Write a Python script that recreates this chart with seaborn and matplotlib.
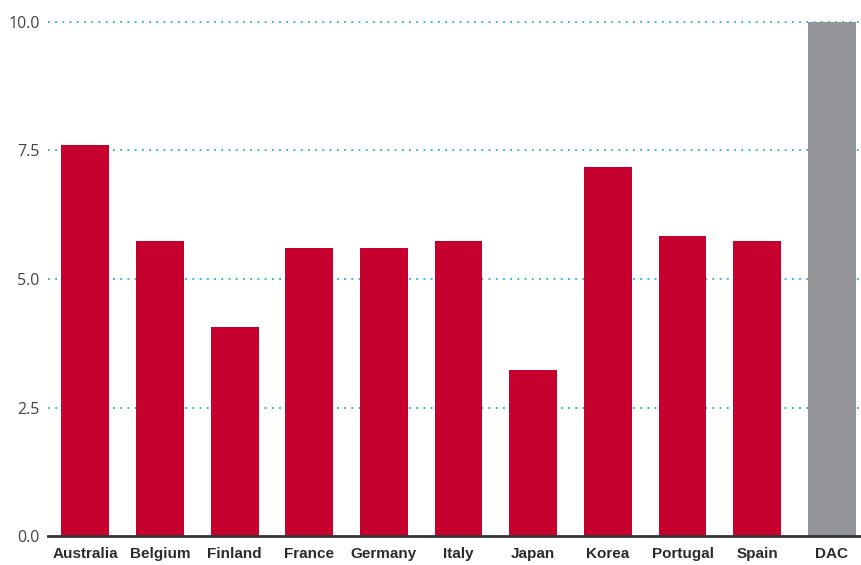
import matplotlib
matplotlib.use("Agg")
import matplotlib.pyplot as plt
import seaborn as sns
import pandas as pd

# valores
paises = ["Australia", "Belgium", "Finland", "France", "Germany", "Italy",
          "Japan", "Korea", "Portugal", "Spain", "DAC"]
valores = [7.6, 5.74, 4.07, 5.6, 5.6, 5.74, 3.23, 7.18, 5.84, 5.74, 10.0]
yticks = [0.0, 2.5, 5.0, 7.5, 10.0]

VERMELHO = "#C5002E"
CINZA = "#939598"
cores = [CINZA if p == "DAC" else VERMELHO for p in paises]

df = pd.DataFrame({"Pais": paises, "Valor": valores})

sns.set_style("white")
fig = plt.figure(figsize=(8.61, 5.65), dpi=100)
ax = fig.add_axes([48 / 861, 29 / 565, 1 - 48 / 861, (536 - 22) / 565])

sns.barplot(data=df, x="Pais", y="Valor", hue="Pais", palette=cores,
            width=0.64, legend=False, ax=ax, zorder=2, saturation=1,
            linewidth=0)

ax.set_xlim(-0.5, 10.39)
ax.set_ylim(0, 10.0)
ax.set_yticks(yticks)
ax.set_yticklabels([f"{v:.1f}" for v in yticks], fontsize=11.5,
                   color="#444444", family="Open Sans")
ax.set_xticks(range(len(paises)))
ax.set_xticklabels(paises, fontsize=11, fontweight="bold", color="#2b2b2b",
                   family="Liberation Sans")
ax.tick_params(axis="both", length=0, pad=6)
ax.tick_params(axis="x", pad=8)

for y in yticks[1:]:
    ax.axhline(y, color="#22ACDC", lw=1.3, ls=(0, (1, 3)), zorder=1,
               clip_on=False)

for lado in ["top", "right", "left"]:
    ax.spines[lado].set_visible(False)
ax.spines["bottom"].set_color("#333333")
ax.spines["bottom"].set_linewidth(2)
ax.spines["bottom"].set_zorder(3)

ax.set_xlabel("")
ax.set_ylabel("")

plt.savefig("out.png", dpi=100)
